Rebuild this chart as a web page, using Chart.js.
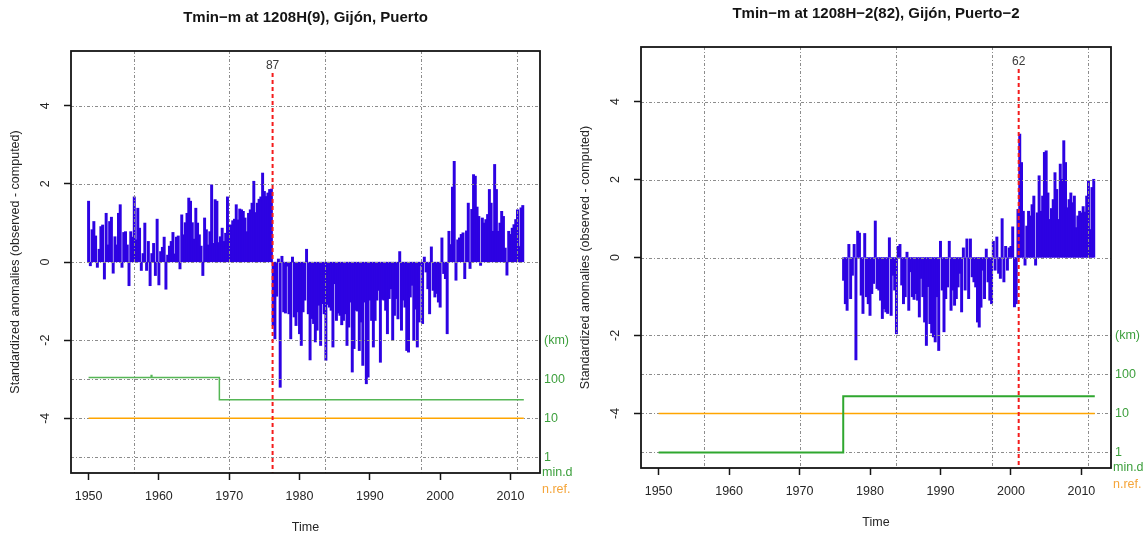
<!DOCTYPE html>
<html>
<head>
<meta charset="utf-8">
<script src="https://cdn.jsdelivr.net/npm/chart.js@4.4.0/dist/chart.umd.min.js"></script>
<style>
  html, body { margin: 0; padding: 0; background: #fff; }
  #wrap { position: relative; width: 1148px; height: 538px; overflow: hidden; }
  .panel { position: absolute; top: 0; width: 574px; height: 538px; }
  canvas { display: block; }
</style>
</head>
<body>
<div id="wrap">
  <div class="panel" style="left:0"><canvas id="panelA" width="574" height="538"></canvas></div>
  <div class="panel" style="left:574px"><canvas id="panelB" width="574" height="538"></canvas></div>
</div>
<script>
// ---- Series: standardized anomalies (observed - computed), quarterly readings ----
const titleA = 'Tmin\u2212m at 1208H(9), Gij\u00f3n, Puerto';
const titleB = 'Tmin\u2212m at 1208H\u22122(82), Gij\u00f3n, Puerto\u22122';

const tickYears = [1950, 1960, 1970, 1980, 1990, 2000, 2010];
const anomTicks = [-4, -2, 0, 2, 4];
const kmTicks = [1, 10, 100, 1000];

const stepQ = 0.25;          // one value per quarter
const startA = 1950.0;
const startB = 1976.25;

const anomA = [
  1.55, -0.09, 0.82, 1.03, 0.66, -0.13, 0.32, 0.90, 0.94, -0.43,
  1.24, 0.43, 1.03, 1.14, -0.28, 0.64, 0.43, 1.24, 1.46, -0.13,
  0.75, 0.77, 0.43, -0.60, 0.77, 0.63, 1.66, 0.56, 1.37, 0.86,
  -0.21, 0.21, 0.99, -0.21, 0.52, -0.60, 0.21, 0.47, -0.34, 1.09,
  -0.58, 0.26, 0.37, 0.63, -0.69, 0.17, 0.40, 0.52, 0.75, 0.20,
  0.63, 0.66, -0.17, 1.20, 0.69, 1.00, 1.24, 1.63, 1.55, 1.00,
  0.58, 1.37, 0.99, 0.69, 0.40, -0.34, 1.12, 0.82, 0.43, 0.77,
  1.97, 0.47, 1.59, 1.55, 0.49, 0.64, 0.86, 0.52, 0.73, 1.66,
  0.94, 0.94, 1.05, 1.09, 1.46, 1.07, 1.35, 1.33, 1.29, 1.12,
  0.77, 1.24, 1.33, 1.50, 2.06, 1.26, 1.50, 1.60, 1.66, 2.27,
  1.80, 1.67, 1.76, 1.85, 1.86,
  -1.62, -1.96, -0.87, 0.07, -3.20, 0.14, -1.27, -1.30, -0.10, -1.32,
  -1.96, 0.12, -1.40, -1.62, -1.27, -1.83, -2.13, -1.27, -0.97, 0.32,
  -1.32, -2.50, -1.44, -1.57, -2.04, -1.74, -1.10, -2.13, -1.06, -1.32,
  -2.51, -1.08, -1.15, -1.23, -2.17, -0.55, -1.49, -1.30, -1.36, -1.60,
  -1.49, -1.32, -2.13, -1.66, -1.02, -2.81, -2.21, -1.23, -1.25, -2.26,
  -1.53, -2.64, -1.02, -3.11, -2.94, -0.97, -1.49, -2.17, -1.49, -0.97,
  -0.72, -2.56, -0.95, -0.97, -1.23, -1.83, -0.93, -0.68, -2.00, -1.36,
  -0.93, -1.45, 0.26, -1.74, -0.97, -1.15, -2.26, -2.30, -0.89, -0.59,
  -2.00, -1.20, -2.17, -1.53, -0.08, -1.57, 0.12, -0.25, -0.68, -1.32,
  0.38, -0.72, -0.89, -0.80, -1.02, -1.15, 0.61, -0.29, -0.42, -1.83,
  0.78, 0.44,
  1.91, 2.57, -0.46, 0.56, 0.61, 0.70, 0.74, -0.42, 0.79, 1.50,
  -0.16, 1.34, 2.23, 2.19, 1.40, 1.16, -0.08, 1.12, 0.99, 1.08,
  1.21, 1.85, 1.50, 0.78, 2.49, 1.85, 0.78, 0.99, 1.29, 1.16,
  0.35, -0.33, 0.78, 0.70, 0.86, 0.95, 1.08, 1.33, 0.39, 1.38,
  1.44
];

const anomB = [
  -0.58, -1.18, -1.35, 0.33, -1.05, -0.45, 0.33, -2.62, 0.67, 0.62,
  -0.96, -1.43, 0.61, -1.00, -1.18, -1.48, -0.92, -0.66, 0.93, -0.79,
  -0.83, -1.09, -1.56, -1.31, -1.39, -1.43, 0.50, -1.48, -0.45, -0.83,
  -1.95, 0.28, 0.33, -0.70, -1.18, -1.00, 0.13, -1.35, -0.36, -1.00,
  -1.07, -0.92, -1.09, -1.52, -0.53, -1.00, -1.65, -2.25, -0.74, -1.69,
  -1.93, -2.03, -2.16, -1.00, -2.38, 0.41, -0.83, -1.90, -1.05, -0.75,
  0.41, -1.35, -0.83, -1.22, -1.05, -0.75, -0.40, -1.39, 0.24, -0.83,
  0.47, -1.05, 0.47, -0.49, -0.62, -0.75, -1.65, -1.78, -1.27, -0.32,
  -1.05, 0.21, -0.62, -1.09, -1.18, 0.41, -0.32, 0.52, -0.40, -0.53,
  0.99, -0.62, 0.28, -0.32, 0.24, 0.28, 0.78, -1.26, -1.18,
  1.23, 3.16, 2.43, 1.18, -0.19, 0.80, 1.18, 1.06, 1.35, 1.57,
  -0.19, 1.14, 2.09, 1.18, 1.57, 2.69, 2.73, 1.65, 0.97, 1.25,
  1.48, 2.17, 1.74, 0.97, 2.39, 2.00, 2.99, 2.43, 1.27, 1.48,
  1.65, 1.40, 1.57, 0.76, 1.06, 1.18, 1.14, 1.30, 1.16, 1.57,
  1.96, 0.71, 1.79, 2.00
];

// Detected break points and their labels
const breakYearA = 1976.17, breakLabelA = '87';
const breakYearB = 2001.1,  breakLabelB = '62';

// Minimum distance to nearest reference (km) and number of references
const distYearsA = [1950.0, 1958.9, 1959.0, 1968.6, 2011.9];
const distKmA    = [110, 125, 110, 30, 30];
const distYearsB = [1950.0, 1976.2, 2011.9];
const distKmB    = [1, 27.5, 27.5];
const refYearsA  = [1950.0, 2011.9];
const nRefA      = [10, 10];
const refYearsB  = [1950.0, 2011.9];
const nRefB      = [10, 10];

// ---- Drawing ----
const FONT = '"Liberation Sans", Arial, Helvetica, sans-serif';
const gridYears = [1956.4, 1970.0, 1983.65, 1997.3, 2010.95];
const GREEN_TXT = '#3c9f3c';
const ORANGE = '#ffa500';

const panelDecor = {
  id: 'panelDecor',
  afterDatasetDraw(chart, args) {
    if (args.meta.type !== 'bar') return;
    const { ctx, chartArea: a, scales } = chart;
    ctx.save();
    ctx.beginPath();
    ctx.rect(a.left, a.top, a.right - a.left, a.bottom - a.top);
    ctx.clip();
    ctx.strokeStyle = '#8c8c8c';
    ctx.lineWidth = 1;
    ctx.setLineDash([3, 2, 1, 2]);
    ctx.beginPath();
    gridYears.forEach(t => {
      const px = Math.round(scales.x.getPixelForValue(t)) + 0.5;
      ctx.moveTo(px, a.top); ctx.lineTo(px, a.bottom);
    });
    anomTicks.forEach(v => {
      const py = Math.round(scales.y.getPixelForValue(v)) + 0.5;
      ctx.moveTo(a.left, py); ctx.lineTo(a.right, py);
    });
    kmTicks.forEach(v => {
      const py = Math.round(scales.km.getPixelForValue(v)) + 0.5;
      ctx.moveTo(a.left, py); ctx.lineTo(a.right, py);
    });
    ctx.stroke();
    ctx.restore();
  },
  afterDatasetsDraw(chart, args, o) {
    const { ctx, chartArea: a, scales } = chart;
    ctx.save();
    // break line and its label
    const bx = scales.x.getPixelForValue(o.breakYear);
    ctx.strokeStyle = '#f41c1c';
    ctx.lineWidth = 2;
    ctx.setLineDash([4, 3]);
    ctx.beginPath();
    ctx.moveTo(bx, a.top + 22);
    ctx.lineTo(bx, a.bottom);
    ctx.stroke();
    ctx.setLineDash([]);
    ctx.fillStyle = '#3a3a3a';
    ctx.font = '12px ' + FONT;
    ctx.textAlign = 'center';
    ctx.textBaseline = 'middle';
    ctx.fillText(o.breakLabel, bx, a.top + 15);
    // plot frame
    ctx.strokeStyle = '#151515';
    ctx.lineWidth = 1.8;
    ctx.strokeRect(a.left, a.top, a.right - a.left, a.bottom - a.top);
    ctx.restore();
  },
  afterDraw(chart, args, o) {
    const { ctx, chartArea: a, scales } = chart;
    const cx = (a.left + a.right) / 2;
    const cy = (a.top + a.bottom) / 2;
    ctx.save();
    // title
    ctx.fillStyle = '#141414';
    ctx.font = 'bold 15px ' + FONT;
    ctx.textAlign = 'center';
    ctx.textBaseline = 'middle';
    ctx.fillText(o.title, cx, a.top - 33);
    // x axis title
    ctx.fillStyle = '#262626';
    ctx.font = '12.5px ' + FONT;
    ctx.fillText('Time', cx, a.bottom + 55);
    // rotated y tick labels
    anomTicks.forEach(v => {
      const py = scales.y.getPixelForValue(v);
      ctx.save();
      ctx.translate(a.left - 25, py);
      ctx.rotate(-Math.PI / 2);
      ctx.fillText(String(v), 0, 0);
      ctx.restore();
    });
    // y axis title
    ctx.save();
    ctx.translate(a.left - 55, cy);
    ctx.rotate(-Math.PI / 2);
    ctx.fillText('Standardized anomalies (observed - computed)', 0, 0);
    ctx.restore();
    // secondary legend labels
    ctx.textAlign = 'left';
    ctx.fillStyle = GREEN_TXT;
    ctx.fillText('min.d', a.right + 2, a.bottom);
    ctx.fillStyle = '#f5a53a';
    ctx.fillText('n.ref.', a.right + 2, a.bottom + 17);
    ctx.restore();
  }
};

function buildPanel(canvasId, p) {
  const bars = p.anom.map((v, i) => ({ x: p.start + i * stepQ, y: v }));
  const dist = p.distYears.map((t, i) => ({ x: t, y: p.distKm[i] }));
  const refs = p.refYears.map((t, i) => ({ x: t, y: p.nRef[i] }));
  return new Chart(document.getElementById(canvasId), {
    type: 'bar',
    data: {
      datasets: [
        { type: 'bar', data: bars, xAxisID: 'x', yAxisID: 'y',
          backgroundColor: '#2d02e2', borderWidth: 0, inflateAmount: 0.6,
          barPercentage: 1, categoryPercentage: 1, order: 3 },
        { type: 'line', data: dist, xAxisID: 'x', yAxisID: 'km',
          borderColor: p.distColor, borderWidth: p.distWidth, stepped: true,
          pointRadius: 0, fill: false, order: 1 },
        { type: 'line', data: refs, xAxisID: 'x', yAxisID: 'km',
          borderColor: ORANGE, borderWidth: 1.6, stepped: true,
          pointRadius: 0, fill: false, order: 2 }
      ]
    },
    options: {
      responsive: false,
      animation: false,
      events: [],
      layout: { padding: { top: p.top, left: 0, right: 0, bottom: 0 } },
      plugins: {
        legend: { display: false },
        tooltip: { enabled: false },
        title: { display: false },
        panelDecor: { title: p.title, breakYear: p.breakYear, breakLabel: p.breakLabel }
      },
      scales: {
        x: {
          type: 'linear', min: 1947.5, max: 2014.2, offset: false,
          afterBuildTicks: s => { s.ticks = tickYears.map(v => ({ value: v })); },
          afterFit: s => { s.height = p.xAxisH; },
          ticks: { color: '#262626', font: { family: FONT, size: 12.5 }, padding: 9,
                   maxRotation: 0, autoSkip: false, callback: v => String(v) },
          grid: { display: true, offset: false, drawOnChartArea: false, drawTicks: true,
                  tickLength: 7, tickColor: '#151515', tickWidth: 1.5 },
          border: { display: false }
        },
        y: {
          type: 'linear', position: 'left', min: -5.4, max: 5.4,
          afterBuildTicks: s => { s.ticks = anomTicks.map(v => ({ value: v })); },
          afterFit: s => { s.width = p.yAxisW; },
          ticks: { display: false },
          grid: { display: true, drawOnChartArea: false, drawTicks: true,
                  tickLength: 7, tickColor: '#151515', tickWidth: 1.5 },
          border: { display: false }
        },
        km: {
          type: 'logarithmic', position: 'right',
          min: Math.pow(10, -0.4), max: Math.pow(10, 10.4),
          afterBuildTicks: s => { s.ticks = kmTicks.map(v => ({ value: v })); },
          afterFit: s => { s.width = p.kmAxisW; },
          ticks: { color: GREEN_TXT, font: { family: FONT, size: 12.5 }, padding: 4,
                   callback: v => (v === 1000 ? '(km)' : String(v)) },
          grid: { display: false, drawTicks: false },
          border: { display: false }
        }
      }
    },
    plugins: [panelDecor]
  });
}

buildPanel('panelA', {
  title: titleA, anom: anomA, start: startA,
  distYears: distYearsA, distKm: distKmA, refYears: refYearsA, nRef: nRefA,
  breakYear: breakYearA, breakLabel: breakLabelA,
  distColor: '#55b655', distWidth: 1.5,
  top: 51, xAxisH: 65, yAxisW: 71, kmAxisW: 34
});

buildPanel('panelB', {
  title: titleB, anom: anomB, start: startB,
  distYears: distYearsB, distKm: distKmB, refYears: refYearsB, nRef: nRefB,
  breakYear: breakYearB, breakLabel: breakLabelB,
  distColor: '#2fa72f', distWidth: 2,
  top: 47, xAxisH: 70, yAxisW: 67, kmAxisW: 37
});
</script>
</body>
</html>
